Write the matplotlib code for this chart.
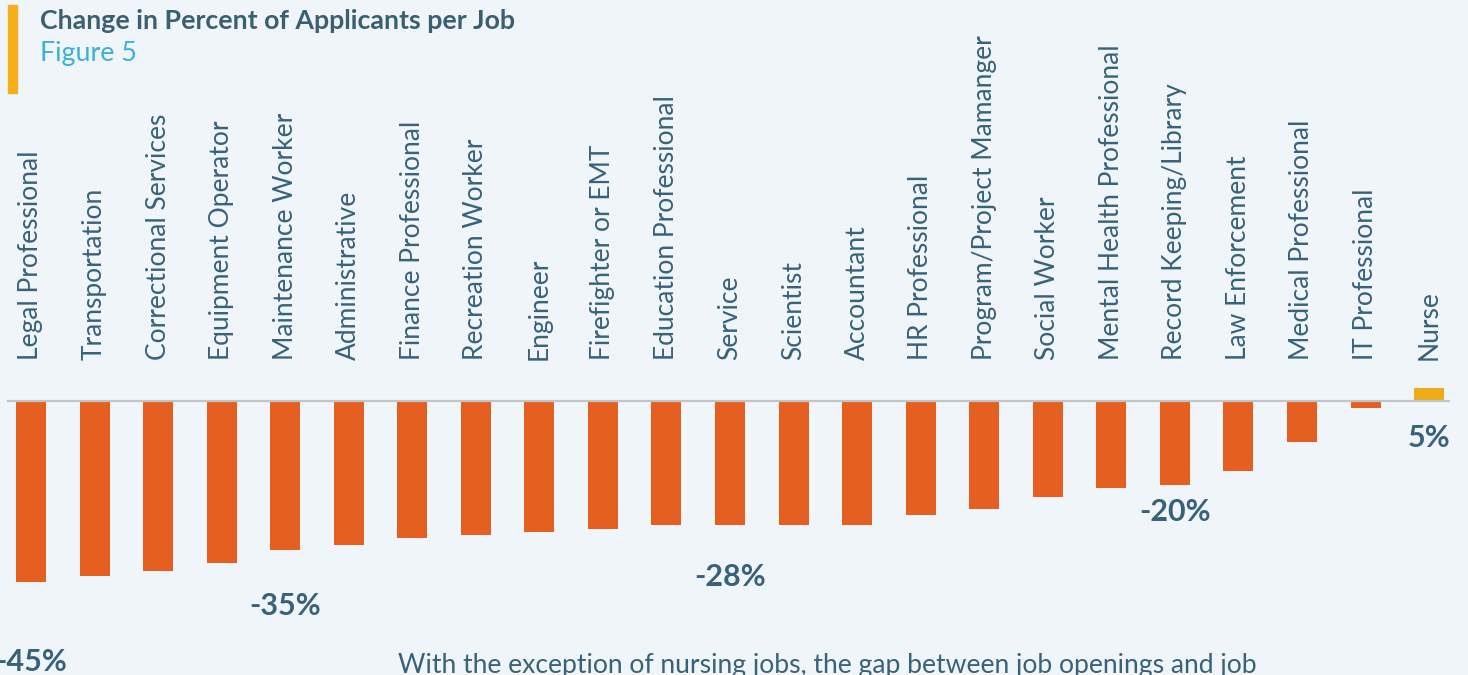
import matplotlib
matplotlib.use("Agg")
import matplotlib.pyplot as plt
from matplotlib.patches import Rectangle

categories = ["Legal Professional", "Transportation", "Correctional Services",
              "Equipment Operator", "Maintenance Worker", "Administrative",
              "Finance Professional", "Recreation Worker", "Engineer",
              "Firefighter or EMT", "Education Professional", "Service",
              "Scientist", "Accountant", "HR Professional",
              "Program/Project Mamanger", "Social Worker",
              "Mental Health Professional", "Record Keeping/Library",
              "Law Enforcement", "Medical Professional", "IT Professional",
              "Nurse"]
values = [-45.2, -43.7, -42.5, -40.5, -37.2, -36.0, -34.2, -33.5, -32.7,
          -32.0, -31.0, -31.0, -31.0, -31.0, -28.5, -27.0, -24.0, -21.7,
          -21.0, -17.5, -10.2, -1.7, 3.2]
label_index = [0, 4, 11, 18, 22]
label_text = ["-45%", "-35%", "-28%", "-20%", "5%"]
label_y = [-65.2, -51.2, -44.0, -27.7, -9.2]

BG = "#eff5f8"
ORANGE = "#e56020"
YELLOW = "#edab19"
DARK = "#37627a"
CYAN = "#3db0d8"
FONT = "Lato"

W, H = 1468, 675
fig = plt.figure(figsize=(W / 100, H / 100), dpi=100, facecolor=BG)
ax = fig.add_axes([0, 0, 1, 1])
ax.set_facecolor(BG)

step = 63.55
x0 = 31.0
ax.set_xlim(-x0 / step, (W - x0) / step)
zero_px = 401.0
ppu = 4.0
ax.set_ylim(-(H - zero_px) / ppu, zero_px / ppu)
ax.axis("off")

xs = list(range(len(categories)))
colors = [YELLOW if v > 0 else ORANGE for v in values]
ax.bar(xs, values, width=30 / step, color=colors, zorder=2)
ax.axhline(0, xmin=8 / W, xmax=1449 / W, color="#c4c4c4", lw=1.6, zorder=3)

for i, c in enumerate(categories):
    ax.text(i, 10.2, c, rotation=90, ha="center", va="bottom",
            fontsize=19, color=DARK, family=FONT)

for i, t, y in zip(label_index, label_text, label_y):
    ax.text(i, y, t, ha="center", va="center", fontsize=22,
            fontweight="bold", color=DARK, family=FONT)

# title block
fig.patches.append(Rectangle((8 / W, 1 - 93 / H), 9 / W, 88 / H,
                             transform=fig.transFigure, color="#f6ae19"))
fig.text(40 / W, 1 - 21 / H, "Change in Percent of Applicants per Job",
         ha="left", va="center", fontsize=19.3, fontweight="bold",
         color="#3a5f73", family=FONT)
fig.text(40 / W, 1 - 53 / H, "Figure 5", ha="left", va="center",
         fontsize=19.3, color=CYAN, family=FONT)
fig.text(398 / W, 1 - 673 / H,
         "With the exception of nursing jobs, the gap between job openings and job",
         ha="left", va="baseline", fontsize=19.1, color=DARK, family=FONT)

fig.savefig("out.png", dpi=100, facecolor=BG)
